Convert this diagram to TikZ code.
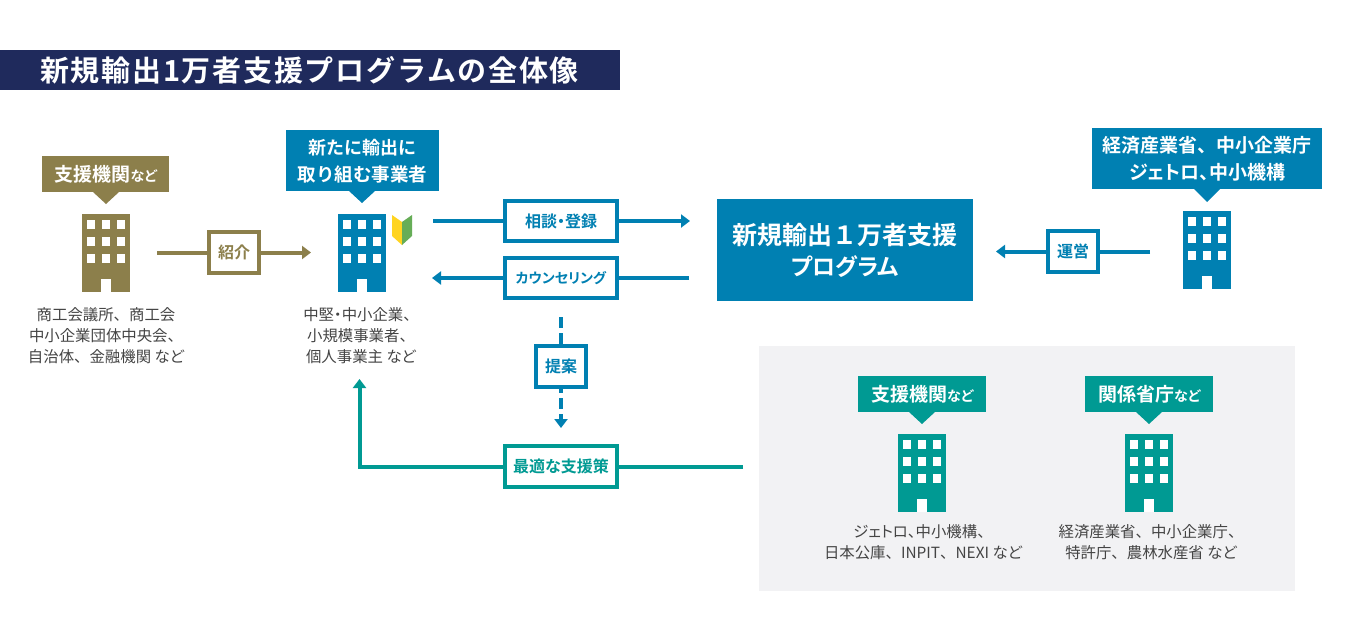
\documentclass[tikz,border=0pt]{standalone}
\usepackage{fontspec}
\setmainfont{Noto Sans CJK JP}[BoldFont={Noto Sans CJK JP Bold}]
\newfontfamily\paltfam{Noto Sans CJK JP}[RawFeature=+palt,BoldFont={Noto Sans CJK JP Bold}]
\newfontfamily\titlefam{Noto Sans CJK JP}[LetterSpace=6,BoldFont={Noto Sans CJK JP Bold}]
\newcommand\pk[1]{{\paltfam #1}}
\usetikzlibrary{arrows.meta}
\definecolor{navy}{HTML}{1F2A5C}
\definecolor{olive}{HTML}{8C7F4B}
\definecolor{blueb}{HTML}{0080B2}
\definecolor{teal2}{HTML}{009A93}
\definecolor{panel}{HTML}{F2F2F4}
\definecolor{bodyt}{HTML}{444444}
\definecolor{leafy}{HTML}{FFD420}
\definecolor{leafg}{HTML}{66AD57}
\newcommand\fsz[1]{\fontsize{#1}{#1}\selectfont}
\tikzset{
  x=1pt,y=-1pt,
  callout/.style={fill=#1,text=white,font=\bfseries,align=center,inner sep=0pt,anchor=north west,
    execute at begin node={\setlength{\baselineskip}{27pt}}},
  labelbox/.style={draw=#1,fill=white,line width=4pt,text=#1,font=\bfseries\paltfam\fsz{16},align=center,inner sep=0pt,anchor=center},
  conn/.style={draw=#1,line width=4pt},
  tipped/.style={-{Triangle[length=9pt,width=13pt]}},
  bodytext/.style={text=bodyt,font=\fsz{15.4},align=center,anchor=center,inner sep=0pt,
    execute at begin node={\setlength{\baselineskip}{21pt}}},
  bldg/.style={fill=#1,inner sep=0pt,anchor=north west,minimum width=48pt,minimum height=78pt},
  dashline/.style={dash pattern=on 11pt off 5pt},
}
% name, x, y, colour
\newcommand\building[4]{%
  \node[bldg=#4] (#1) at (#2,#3) {};
  \foreach \wy/\wh in {6/8.5,23/8.5,40/9}{
    \foreach \wx in {5,20,35}{
      \fill[white] (#2+\wx,#3+\wy) rectangle ++(8,\wh);
    }
  }
  \fill[white] (#2+19,#3+65) rectangle ++(10,13);
}
% name, x1, y1, x2, y2, tipx, tipy, colour, text
\newcommand\callout[9]{%
  \node[callout=#8,minimum width=#4pt-#2pt,minimum height=#5pt-#3pt] (#1) at (#2,#3) {#9};
  \fill[#8] (#6-13,#5) -- (#6+13,#5) -- (#6,#7) -- cycle;
}
\begin{document}
\begin{tikzpicture}
\useasboundingbox (0,0) rectangle (1350,640);
\fill[white] (0,0) rectangle (1350,640);
% title
\node[fill=navy,anchor=north west,minimum width=620pt,minimum height=40pt,inner sep=0pt] (titlebar) at (0,50) {};
\node[text=white,font=\bfseries\titlefam\fsz{29},anchor=west,inner sep=0pt] (title) at (40,70) {新規輸出1万者支援プログラムの全体像};
% panel
\node[fill=panel,anchor=north west,minimum width=536pt,minimum height=245pt,inner sep=0pt] (panelbg) at (759,346) {};
% main box
\node[fill=blueb,text=white,font=\bfseries,align=center,anchor=north west,minimum width=256pt,minimum height=102pt,inner sep=0pt,
  execute at begin node={\setlength{\baselineskip}{31pt}}] (main) at (717,199) {\fsz{25}新規輸出１万者支援\\\paltfam\fsz{23}プログラム};
% callouts
\callout{c1}{42}{156}{169}{192}{106}{204}{olive}{\fsz{19}\pk{支援機関}\fsz{14}\pk{など}}
\callout{c2}{286}{130}{439}{191}{362}{203}{blueb}{\fsz{18}新たに輸出に\\\fsz{18.5}取り組む事業者}
\callout{c3}{1092}{128}{1322}{189}{1207}{202}{blueb}{\fsz{19}経済産業省、中小企業庁\\\fsz{19}\pk{ジェトロ、}中小機構}
\callout{c4}{858}{376}{986}{412}{922}{424}{teal2}{\fsz{19}\pk{支援機関}\fsz{14}\pk{など}}
\callout{c5}{1085}{376}{1213}{412}{1149}{424}{teal2}{\fsz{19}\pk{関係省庁}\fsz{14}\pk{など}}
% buildings
\building{b1}{82}{214}{olive}
\building{b2}{338}{214}{blueb}
\building{b3}{1183}{211}{blueb}
\building{b4}{898}{434}{teal2}
\building{b5}{1125}{434}{teal2}
% beginner mark
\fill[leafy] (392,215) -- (402,222) -- (402,245) -- (392,236) -- cycle;
\fill[leafg] (412,215) -- (402,222) -- (402,245) -- (412,236) -- cycle;
% body text
\node[bodytext] (t1) at (106,336) {商工会議所、商工会\\中小企業団体中央会、\\自治体、金融機関 \pk{など}};
\node[bodytext] (t2) at (361,336) {中堅\pk{・}中小企業、\\小規模事業者、\\個人事業主 \pk{など}};
\node[bodytext] (t4) at (923,542) {\pk{ジェトロ、}中小機構、\\日本公庫、INPIT、NEXI \pk{など}};
\node[bodytext] (t5) at (1151,542) {経済産業省、中小企業庁、\\特許庁、農林水産省 \pk{など}};
% label boxes
\node[labelbox=olive,minimum width=50pt,minimum height=41pt] (l1) at (234,252.5) {紹介};
\node[labelbox=blueb,minimum width=112pt,minimum height=40pt] (l2) at (561,221) {相談・登録};
\node[labelbox=blueb,minimum width=112pt,minimum height=40pt] (l3) at (561,278) {\fsz{14}カウンセリング};
\node[labelbox=blueb,minimum width=50pt,minimum height=41pt] (l4) at (561,366.5) {提案};
\node[labelbox=teal2,minimum width=112pt,minimum height=41pt] (l5) at (561,466.5) {最適な支援策};
\node[labelbox=blueb,minimum width=50pt,minimum height=41pt] (l6) at (1073,251.5) {運営};
% connector ends
\coordinate (a1s) at (157,252.5); \coordinate (a1e) at (311,252.5);
\coordinate (a2s) at (433,221);   \coordinate (a2e) at (690,221);
\coordinate (a3s) at (689,278);   \coordinate (a3e) at (432,278);
\coordinate (a4s) at (561,317);   \coordinate (a4e) at (561,428);
\coordinate (a5s) at (743,466.5); \coordinate (a5c) at (359.5,466.5); \coordinate (a5e) at (359.5,379);
\coordinate (a6s) at (1150,251.5);\coordinate (a6e) at (996,251.5);
% connectors
\draw[conn=olive] (a1s) -- (l1.west);
\draw[conn=olive,tipped] (l1.east) -- (a1e);
\draw[conn=blueb] (a2s) -- (l2.west);
\draw[conn=blueb,tipped] (l2.east) -- (a2e);
\draw[conn=blueb] (a3s) -- (l3.east);
\draw[conn=blueb,tipped] (l3.west) -- (a3e);
\draw[conn=blueb,dashline] (a4s) -- (l4.north);
\draw[conn=blueb,dash pattern=on 11pt off 5pt,dash phase=7pt,tipped] (l4.south) -- (a4e);
\draw[conn=teal2] (a5s) -- (l5.east);
\draw[conn=teal2,tipped] (l5.west) -- (a5c) -- (a5e);
\draw[conn=blueb] (a6s) -- (l6.east);
\draw[conn=blueb,tipped] (l6.west) -- (a6e);
\end{tikzpicture}
\end{document}
